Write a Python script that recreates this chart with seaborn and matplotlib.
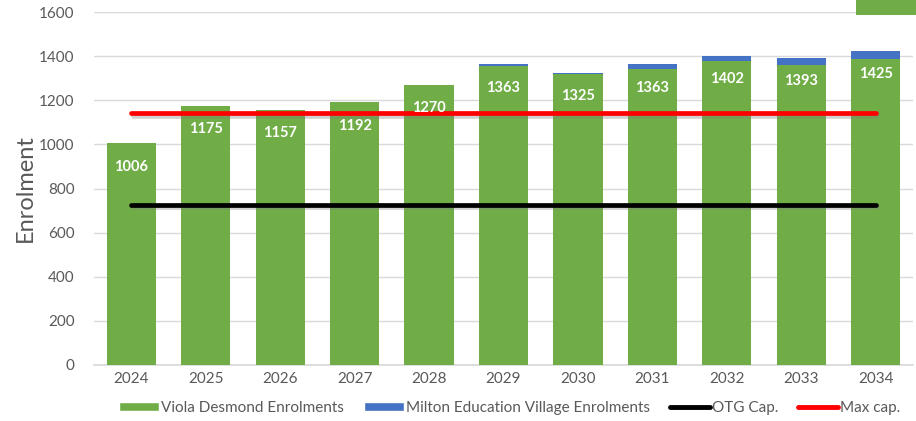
import matplotlib
matplotlib.use("Agg")
import matplotlib.pyplot as plt
import matplotlib.patheffects as pe
from matplotlib.patches import Patch, Rectangle
from matplotlib.lines import Line2D
import seaborn as sns
import numpy as np
import pandas as pd

years = ["2024", "2025", "2026", "2027", "2028", "2029", "2030", "2031", "2032", "2033", "2034"]
viola = [1006, 1175, 1157, 1192, 1270, 1356, 1317, 1342, 1380, 1361, 1386]
totals = [1006, 1175, 1157, 1192, 1270, 1363, 1325, 1363, 1402, 1393, 1425]
milton = [t - v for t, v in zip(totals, viola)]
otg_cap = 724
max_cap = 1140

GREEN = "#70AD47"
BLUE = "#4472C4"
GRAY = "#595959"

sns.set_theme(style="white")
plt.rcParams["font.family"] = ["Lato", "DejaVu Sans"]

fig = plt.figure(figsize=(9.16, 4.21), dpi=100)
ax = fig.add_axes([94 / 916, 56 / 421, (913 - 94) / 916, (365 - 12) / 421])

df = pd.DataFrame({"year": years, "viola": viola, "total": totals, "milton": milton})

sns.barplot(data=df, x="year", y="total", color=BLUE, saturation=1, width=0.66, ax=ax,
            zorder=2, linewidth=0, edgecolor="none")
sns.barplot(data=df, x="year", y="viola", color=GREEN, saturation=1, width=0.66, ax=ax,
            zorder=3, linewidth=0, edgecolor="none")

n = len(years)
xs = np.arange(n)
shadow = [pe.SimpleLineShadow(offset=(1.2, -1.5), alpha=0.35, shadow_color="gray"), pe.Normal()]
sns.lineplot(x=xs, y=[otg_cap] * n, color="black", linewidth=3.4, ax=ax, zorder=4,
             path_effects=shadow)
sns.lineplot(x=xs, y=[max_cap] * n, color="#FF0000", linewidth=3.4, ax=ax, zorder=4,
             path_effects=shadow)

for i, t in enumerate(totals):
    ax.annotate(str(t), (i, t), xytext=(0, -17), textcoords="offset points",
                ha="center", va="center", color="white", fontsize=10.5,
                fontweight="bold", zorder=5)

ax.set_ylim(0, 1600)
ax.set_xlim(-0.5, n - 0.5)
ax.set_yticks(range(0, 1601, 200))
ax.yaxis.grid(True, color="#D9D9D9", linewidth=1)
ax.set_axisbelow(True)
for s in ["top", "right", "left"]:
    ax.spines[s].set_visible(False)
ax.spines["bottom"].set_color("#D9D9D9")
ax.tick_params(axis="both", length=0, colors=GRAY, labelsize=11)
ax.tick_params(axis="y", pad=14)
ax.tick_params(axis="x", pad=5)
ax.set_xlabel("")
ax.set_ylabel("Enrolment", fontsize=17, color=GRAY, labelpad=2)

handles = [
    Patch(facecolor=GREEN, label="Viola Desmond Enrolments"),
    Patch(facecolor=BLUE, label="Milton Education Village Enrolments"),
    Line2D([0], [0], color="black", linewidth=3.5, label="OTG Cap."),
    Line2D([0], [0], color="#FF0000", linewidth=3.5, label="Max cap."),
]
leg = fig.legend(handles=handles, loc="center", bbox_to_anchor=(510 / 916, 1 - 408 / 421),
                 ncol=4, frameon=False, fontsize=11, handlelength=2.6, handleheight=0.5,
                 handletextpad=0.15, columnspacing=1.3, labelcolor=GRAY)

fig.patches.append(Rectangle((856 / 916, 1 - 15 / 421), 60 / 916, 15 / 421,
                             transform=fig.transFigure, facecolor=GREEN, edgecolor="none"))

fig.savefig("out.png", dpi=100)
